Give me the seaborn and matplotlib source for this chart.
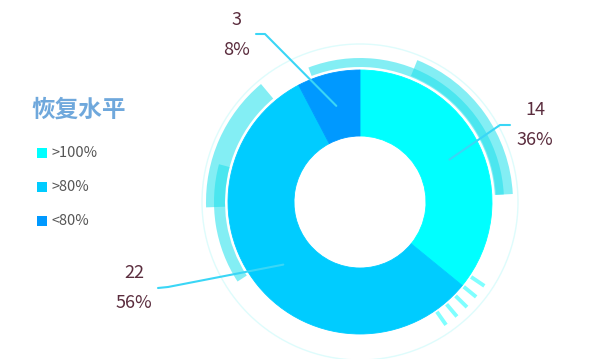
"""Donut chart: 恢复水平 distribution with decorative arcs."""

import matplotlib
matplotlib.use("Agg")
import matplotlib.pyplot as plt
from matplotlib.patches import Wedge, Circle, Rectangle
import numpy as np
import seaborn as sns

# data
categories = [">100%", ">80%", "<80%"]
counts = [14, 22, 3]
slice_colors = ["#00ffff", "#00ccff", "#0099ff"]
title = "恢复水平"

sns.set_theme(style="white")
plt.rcParams["font.family"] = ["Noto Sans CJK SC", "DejaVu Sans"]

W, H = 601, 359
fig = plt.figure(figsize=(W / 100, H / 100), dpi=100)
ax = fig.add_axes([0, 0, 1, 1])


def fy(y):
    # image pixel row -> axes y
    return H - y


cx, cy = 360, fy(202)
r_out, r_in = 132, 66

# faint outer ring
ax.add_patch(Circle((cx, cy), 158, fill=False, ec="#c8fafa", lw=1, alpha=0.6))

# decorative arcs: (theta1, theta2, inner radius, outer radius)
arcs = [
    (3, 111, 135, 144),
    (3, 68, 136, 153),
    (130, 182, 135, 154),
    (165, 213, 135, 146),
]
for t1, t2, ri, ro in arcs:
    ax.add_patch(Wedge((cx, cy), ro, t1, t2, width=ro - ri,
                       fc="#1ee0ec", ec="none", alpha=0.55))

# short ticks at bottom right
for ang in np.linspace(-34, -55, 5):
    a = np.deg2rad(ang)
    ax.plot([cx + 134 * np.cos(a), cx + 150 * np.cos(a)],
            [cy + 134 * np.sin(a), cy + 150 * np.sin(a)],
            color="#00ffff", alpha=0.5, lw=2.8, solid_capstyle="butt")

wedges, _ = ax.pie(counts, colors=slice_colors, startangle=90, counterclock=False,
                   radius=r_out, center=(cx, cy),
                   wedgeprops=dict(width=r_out - r_in, linewidth=0.6))
for w in wedges:
    w.set_edgecolor(w.get_facecolor())

# labels with leader lines
total = sum(counts)
leader_pts = [[(500, 125), (510, 125)],
              [(168, 287), (158, 288)],
              [(265, 34), (256, 34)]]
text_xy = [(535, 110), (134, 273), (237, 20)]
for w, n, pts, (tx, ty) in zip(wedges, counts, leader_pts, text_xy):
    mid = np.deg2rad((w.theta1 + w.theta2) / 2)
    r_mid = (r_out + r_in) / 2
    xs = [cx + r_mid * np.cos(mid)] + [p[0] for p in pts]
    ys = [cy + r_mid * np.sin(mid)] + [fy(p[1]) for p in pts]
    ax.plot(xs, ys, color="#3ad6f6", lw=1.5)
    ax.text(tx, fy(ty), f"{n}", ha="center", va="center",
            fontsize=13, color="#5b2d3e")
    ax.text(tx, fy(ty + 30), f"{round(n / total * 100)}%", ha="center",
            va="center", fontsize=13, color="#5b2d3e")

# title and legend
ax.text(31, fy(110), title, ha="left", va="center", fontsize=17,
        fontweight="bold", color="#6fa8dc")
for i, (cat, col) in enumerate(zip(categories, slice_colors)):
    y = 153 + i * 34
    ax.add_patch(Rectangle((37, fy(y + 5)), 10, 10, fc=col, ec="none"))
    ax.text(51, fy(y), cat, ha="left", va="center", fontsize=10.5, color="#555555")

ax.set_xlim(0, W)
ax.set_ylim(0, H)
ax.set_aspect("equal")
ax.axis("off")

fig.savefig("out.png", dpi=100)
plt.close(fig)
